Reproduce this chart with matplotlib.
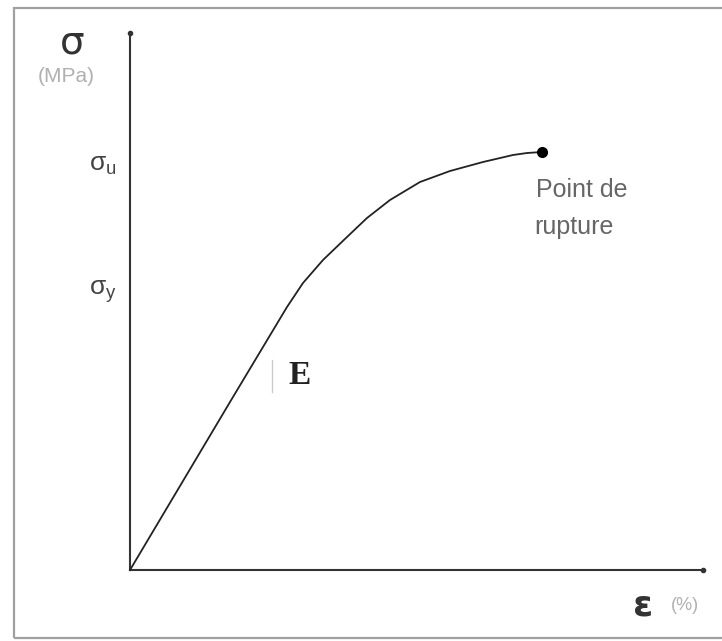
import matplotlib
matplotlib.use("Agg")
import matplotlib.pyplot as plt
from matplotlib.patches import Rectangle

plt.rcParams['font.family'] = ['Liberation Sans', 'DejaVu Sans']
plt.rcParams['mathtext.fontset'] = 'dejavusans'

# stress-strain curve (arbitrary units)
strain = [0.0, 0.5, 1.0, 1.57, 1.73, 1.93, 2.17, 2.37, 2.60, 2.90, 3.20, 3.53, 3.83, 3.97, 4.12]
stress = [0.0, 0.84, 1.68, 2.63, 2.87, 3.10, 3.33, 3.52, 3.70, 3.88, 3.99, 4.08, 4.15, 4.17, 4.18]

rupture = (4.12, 4.18)
y_ticks = [4.05, 2.78]
y_labels = [r'$\mathregular{\sigma_u}$', r'$\mathregular{\sigma_y}$']

fig = plt.figure(figsize=(7.22, 6.41), dpi=100)
ax = fig.add_axes([0, 0, 1, 1])
ax.set_xlim(-1.30, 5.92)
ax.set_ylim(-0.71, 5.70)
ax.axis('off')

# outer frame
fig.add_artist(Rectangle((14/722, 3/641), 1.0, 1 - 11/641, transform=fig.transFigure,
                         fill=False, edgecolor='#a0a0a0', linewidth=1.6))

# axes with small dots at the ends
ax.plot([0, 0], [0, 5.37], color='#333333', lw=1.5)
ax.plot([0, 5.73], [0, 0], color='#333333', lw=1.5)
ax.plot([0], [5.37], 'o', color='#333333', ms=3)
ax.plot([5.73], [0], 'o', color='#333333', ms=3)

# curve + rupture point
ax.plot(strain, stress, color='#222222', lw=1.3)
ax.plot(*rupture, 'o', color='black', ms=7)

# labels
ax.text(-0.58, 5.27, 'σ', fontsize=28, color='#333333', ha='center', va='center',
        family=['DejaVu Sans'])
ax.text(-0.64, 4.94, '(MPa)', fontsize=15, color='#b0b0b0', ha='center', va='center')
for yv, lab in zip(y_ticks, y_labels):
    ax.text(-0.27, yv, lab, fontsize=19, color='#444444', ha='center', va='center')

ax.text(4.06, 3.80, 'Point de', fontsize=18, color='#666666', ha='left', va='center')
ax.text(4.04, 3.43, 'rupture', fontsize=18, color='#666666', ha='left', va='center')

ax.plot([1.42, 1.42], [1.78, 2.10], color='#cccccc', lw=1)
ax.text(1.70, 1.94, 'E', fontsize=24, color='#222222', ha='center', va='center',
        family=['Liberation Serif'], weight='bold')

ax.text(5.13, -0.35, 'ε', fontsize=26, color='#333333', ha='center', va='center',
        family=['DejaVu Sans'], weight='bold')
ax.text(5.55, -0.36, '(%)', fontsize=13, color='#b0b0b0', ha='center', va='center')

fig.savefig('out.png', dpi=100)
